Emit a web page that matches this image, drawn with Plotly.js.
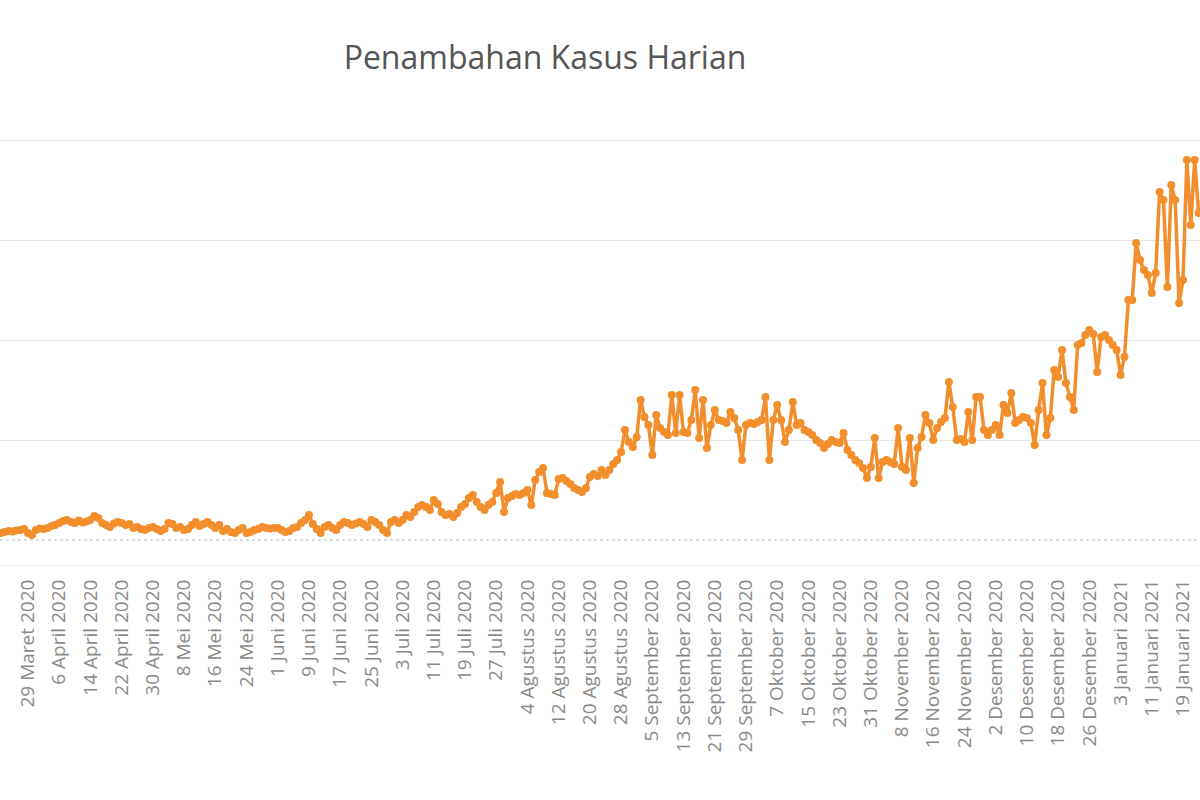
<!DOCTYPE html>
<html>
<head>
<meta charset="utf-8">
<script src="https://cdn.plot.ly/plotly-3.0.1.min.js"></script>
<style>
  html, body { margin: 0; padding: 0; background: #ffffff; }
  #chart { width: 1200px; height: 800px; }
</style>
</head>
<body>
<div id="chart"></div>
<script>
// Daily new cases, first value = 22 Maret 2020
const startDate = '2020-03-22';
const casesMar = [70, 80, 90, 85, 95, 100, 110, 70, 50, 100];
const casesApr = [115, 110, 120, 140, 150, 170, 190, 200, 180, 170, 195, 175, 185, 200, 240, 220, 170, 150, 130, 165, 180, 170, 150, 160, 120, 130, 110, 100, 120, 130];
const casesMei = [110, 90, 110, 170, 160, 120, 130, 100, 110, 150, 180, 140, 160, 180, 150, 120, 150, 90, 110, 80, 70, 100, 120, 70, 80, 100, 110, 130, 120, 115, 120];
const casesJun = [120, 100, 80, 90, 120, 130, 170, 200, 250, 160, 110, 70, 130, 150, 120, 100, 150, 180, 170, 150, 165, 180, 160, 130, 200, 180, 150, 100, 70, 180];
const casesJul = [200, 170, 200, 250, 230, 280, 330, 350, 330, 300, 400, 360, 280, 250, 260, 230, 270, 330, 360, 420, 450, 380, 330, 300, 350, 380, 470, 580, 280, 420, 440];
const casesAgu = [460, 450, 470, 500, 350, 600, 680, 720, 470, 460, 450, 610, 620, 590, 560, 520, 500, 480, 520, 630, 660, 640, 700, 650, 700, 760, 800, 880, 1100, 980, 930];
const casesSep = [1030, 1400, 1230, 1150, 850, 1250, 1120, 1080, 1050, 1450, 1070, 1450, 1080, 1070, 1200, 1500, 1020, 1400, 920, 1150, 1300, 1200, 1190, 1170, 1280, 1220, 1100, 800, 1150, 1170];
const casesOkt = [1160, 1180, 1200, 1430, 800, 1200, 1350, 1200, 980, 1100, 1380, 1150, 1170, 1100, 1080, 1050, 1000, 970, 920, 960, 1000, 980, 970, 1070, 900, 850, 800, 770, 720, 620, 730];
const casesNov = [1020, 620, 780, 800, 780, 760, 1120, 730, 700, 1020, 570, 920, 1030, 1250, 1170, 1000, 1120, 1180, 1220, 1580, 1330, 1000, 1010, 980, 1280, 1000, 1430, 1430, 1100, 1050];
const casesDes = [1100, 1150, 1050, 1350, 1270, 1470, 1170, 1200, 1230, 1220, 1170, 950, 1300, 1570, 1050, 1220, 1700, 1630, 1900, 1570, 1430, 1300, 1950, 1970, 2050, 2100, 2060, 1680, 2030, 2050, 2000];
const casesJan = [1950, 1900, 1650, 1830, 2400, 2400, 2970, 2800, 2700, 2650, 2470, 2670, 3480, 3400, 2530, 3550, 3400, 2370, 2600, 3800, 3150, 3800, 3270];

// Axis ticks
const tickDates = ['2020-03-21','2020-03-29','2020-04-06','2020-04-14','2020-04-22','2020-04-30','2020-05-08','2020-05-16','2020-05-24','2020-06-01','2020-06-09','2020-06-17','2020-06-25','2020-07-03','2020-07-11','2020-07-19','2020-07-27','2020-08-04','2020-08-12','2020-08-20','2020-08-28','2020-09-05','2020-09-13','2020-09-21','2020-09-29','2020-10-07','2020-10-15','2020-10-23','2020-10-31','2020-11-08','2020-11-16','2020-11-24','2020-12-02','2020-12-10','2020-12-18','2020-12-26','2021-01-03','2021-01-11','2021-01-19'];
const monthNames = ['Januari','Februari','Maret','April','Mei','Juni','Juli','Agustus','September','Oktober','November','Desember'];
const gridValues = [1000, 2000, 3000, 4000];

const cases = [].concat(casesMar, casesApr, casesMei, casesJun, casesJul, casesAgu, casesSep, casesOkt, casesNov, casesDes, casesJan);
const t0 = Date.parse(startDate + 'T00:00:00Z');
const dates = cases.map((_, i) => new Date(t0 + i * 86400000).toISOString().slice(0, 10));
const tickText = tickDates.map(d => {
  const [y, m, day] = d.split('-');
  return parseInt(day, 10) + ' ' + monthNames[parseInt(m, 10) - 1] + ' ' + y;
});

const orange = '#f28e2b';
const trace = {
  x: dates, y: cases, type: 'scatter', mode: 'lines+markers',
  line: { color: orange, width: 3.5 },
  marker: { color: orange, size: 8 },
  hoverinfo: 'x+y'
};

const layout = {
  width: 1200, height: 800,
  margin: { l: 0, r: 0, t: 100, b: 235 },
  paper_bgcolor: '#ffffff', plot_bgcolor: '#ffffff',
  showlegend: false,
  title: {
    text: 'Penambahan Kasus Harian',
    font: { family: 'Open Sans, sans-serif', size: 32, color: '#555555' },
    x: 545 / 1200, xref: 'container', xanchor: 'center',
    y: 1 - 58 / 800, yref: 'container', yanchor: 'middle'
  },
  xaxis: {
    type: 'date',
    range: ['2020-03-21 19:46', '2021-01-23 08:40'],
    tickmode: 'array', tickvals: tickDates, ticktext: tickText,
    tickangle: -90,
    tickfont: { family: 'Open Sans, sans-serif', size: 19, color: '#8a8a8a' },
    ticks: '', showgrid: false, zeroline: false,
    showline: true, linecolor: '#ececec', linewidth: 1,
    ticklabelstandoff: 6
  },
  yaxis: {
    range: [-250, 4400],
    tickmode: 'array', tickvals: gridValues,
    showticklabels: false, ticks: '',
    showgrid: true, gridcolor: '#e6e6e6', gridwidth: 1,
    zeroline: false, showline: false
  },
  shapes: [{
    type: 'line', xref: 'paper', x0: 0, x1: 1, yref: 'y', y0: 0, y1: 0,
    line: { color: '#b8b8b8', width: 1, dash: 'dot' }, layer: 'below'
  }]
};

Plotly.newPlot('chart', [trace], layout, { displayModeBar: false, staticPlot: true });
</script>
</body>
</html>
